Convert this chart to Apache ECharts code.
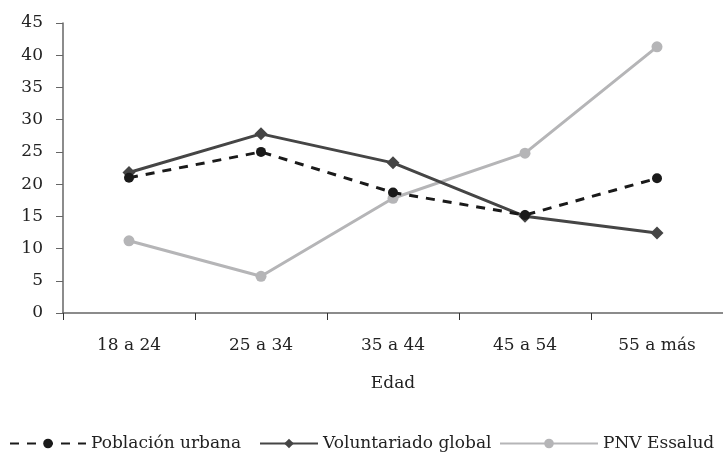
<!DOCTYPE html>
<html>
<head>
<meta charset="utf-8">
<script src="https://cdn.jsdelivr.net/npm/echarts@6/dist/echarts.min.js"></script>
<style>html,body{margin:0;padding:0;background:#fff;}#c{width:723px;height:453px;}</style>
</head>
<body>
<div id="c"></div>
<script>
var categories = ['18 a 24', '25 a 34', '35 a 44', '45 a 54', '55 a más'];
var poblacionUrbana = [21.0, 25.0, 18.7, 15.2, 20.9];
var voluntariadoGlobal = [21.8, 27.8, 23.3, 15.0, 12.4];
var pnvEssalud = [11.2, 5.7, 17.8, 24.8, 41.3];
var yTicks = { min: 0, max: 45, interval: 5 };

var FONT = 'DejaVu Serif';
var TXT = '#222';
var chart = echarts.init(document.getElementById('c'), null, { renderer: 'canvas' });
function legendAt(name, left, w) {
  return {
    data: [name], left: left, top: 430, itemWidth: w, itemHeight: 12, itemGap: 4,
    textStyle: { fontFamily: FONT, fontSize: 17, color: TXT }
  };
}
chart.setOption({
  animation: false,
  backgroundColor: '#fff',
  legend: [
    legendAt('Población urbana', 4, 76),
    legendAt('Voluntariado global', 254, 58),
    legendAt('PNV Essalud', 494, 98)
  ],
  grid: { left: 63, right: 0, top: 23, bottom: 140 },
  xAxis: {
    type: 'category', data: categories, boundaryGap: true,
    name: 'Edad', nameLocation: 'middle', nameGap: 62,
    nameTextStyle: { fontFamily: FONT, fontSize: 17, color: TXT },
    axisLine: { lineStyle: { color: '#666', width: 1.5 } },
    axisTick: { show: true, length: 7, lineStyle: { color: '#333' } },
    axisLabel: { fontFamily: FONT, fontSize: 17, color: TXT, margin: 24 }
  },
  yAxis: {
    type: 'value', min: yTicks.min, max: yTicks.max, interval: yTicks.interval,
    axisLine: { show: true, lineStyle: { color: '#666', width: 1.5 } },
    axisTick: { show: true, length: 7, lineStyle: { color: '#666' } },
    splitLine: { show: false },
    axisLabel: { fontFamily: FONT, fontSize: 17, color: TXT, margin: 20 }
  },
  series: [
    {
      name: 'Población urbana', type: 'line', data: poblacionUrbana,
      symbol: 'circle', symbolSize: 10,
      lineStyle: { color: '#1a1a1a', width: 3, type: [9, 8] },
      itemStyle: { color: '#1a1a1a' }, z: 3
    },
    {
      name: 'Voluntariado global', type: 'line', data: voluntariadoGlobal,
      symbol: 'diamond', symbolSize: 13,
      lineStyle: { color: '#454545', width: 3 },
      itemStyle: { color: '#454545' }, z: 2
    },
    {
      name: 'PNV Essalud', type: 'line', data: pnvEssalud,
      symbol: 'circle', symbolSize: 11,
      lineStyle: { color: '#b5b5b7', width: 3 },
      itemStyle: { color: '#b5b5b7' }, z: 1
    }
  ]
});
</script>
</body>
</html>
